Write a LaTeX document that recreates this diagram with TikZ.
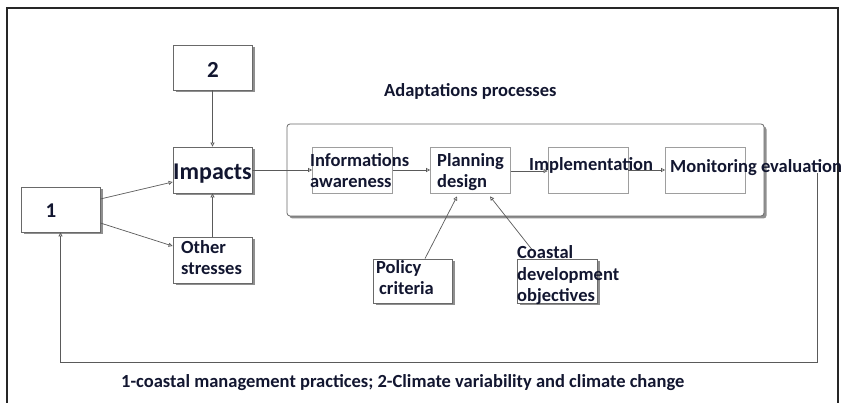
\documentclass[tikz,border=0pt]{standalone}
\usepackage{fontspec}
\setmainfont{Carlito}
\usetikzlibrary{arrows.meta,shadows,calc}
\definecolor{ink}{RGB}{18,22,48}
\definecolor{edge}{RGB}{105,105,105}
\definecolor{wire}{RGB}{90,90,90}
\begin{document}
\begin{tikzpicture}[x=1pt,y=-1pt,
  shbox/.style={draw=edge, line width=0.8pt, fill=white, inner sep=0pt,
    drop shadow={shadow xshift=2.5pt,shadow yshift=-2.5pt,opacity=0.55,fill=black!80}},
  stepbox/.style={draw=black!38, line width=0.8pt, fill=white, inner sep=0pt,
    minimum width=80pt, minimum height=46pt},
  txt/.style={text=ink, font=\fontsize{18.5}{21.5}\selectfont\bfseries, inner sep=0pt, align=left},
  link/.style={draw=wire, line width=0.7pt, -{Triangle[open,length=4pt,width=4pt]}}]
\useasboundingbox (0,0) rectangle (844,403);
\fill[white] (0,0) rectangle (844,403);
% outer frame, open at the bottom
\draw[line width=1.4pt, black!85] (7,403) -- (7,8) -- (838,8) -- (838,403);

% left-hand group
\node[shbox, minimum width=79pt, minimum height=45pt] (b2) at (212.5,67.5) {};
\node[txt, font=\fontsize{23}{26}\selectfont\bfseries, anchor=base] (b2t) at (213,78) {2};
\node[shbox, minimum width=79pt, minimum height=46pt] (imp) at (212.5,170) {};
\node[txt, font=\fontsize{24}{26}\selectfont\bfseries, anchor=base] (impt) at (212.5,180) {Impacts};
\node[shbox, minimum width=79pt, minimum height=45pt] (b1) at (60.5,209.5) {};
\node[txt, font=\fontsize{21}{24}\selectfont\bfseries, anchor=base] (b1t) at (51,218) {1};
\node[shbox, minimum width=79pt, minimum height=46pt] (oth) at (212.5,260) {};

% adaptation process group
\node[shbox, rounded corners=3pt, minimum width=477pt, minimum height=92pt] (big) at (525.5,170) {};
\node[txt, anchor=base west] (bigt) at (384,97) {Adaptations processes};
\node[stepbox] (info) at (352.5,170) {};
\node[stepbox] (plan) at (470.5,170) {};
\node[stepbox] (impl) at (588,170) {};
\node[stepbox] (mon)  at (705.5,170) {};

% external inputs to planning
\node[shbox, minimum width=79pt, minimum height=44pt] (pol) at (412.5,281) {};
\node[shbox, minimum width=80pt, minimum height=44pt] (coa) at (557,281) {};

% connectors
\draw[link] (b2.south) -- (imp.north);
\draw[link] (oth.north) -- (imp.south);
\draw[link] ([yshift=10.5pt]b1.east) -- ([yshift=-12pt]imp.west);
\draw[link] ([yshift=-13.5pt]b1.east) -- ([yshift=14pt]oth.west);
\draw[link] (imp.east) -- (info.west);
\draw[link] (info.east) -- (plan.west);
\draw[link] ([yshift=-1pt]plan.east) -- ([yshift=-1pt]impl.west);
\draw[link] (impl.east) -- (mon.west);
\draw[link] ([xshift=12.5pt]pol.north) -- ([xshift=-13.5pt,yshift=-3pt]plan.south);
\draw[link] ([xshift=-25pt,yshift=9pt]coa.north) -- ([xshift=19.5pt,yshift=-3pt]plan.south);
\coordinate (fb) at (817,173);
\coordinate (fbc) at (817,362);
\draw[link] (fb) -- (fbc) -| (b1.south);

% labels (multi-line nodes sit on the baseline of their last line)
\node[txt, anchor=base west] (otht) at (181,275) {Other\\stresses};
\node[txt, anchor=base west] (infot) at (310,188) {Informations\\awareness};
\node[txt, anchor=base west] (plant) at (437,188) {Planning\\design};
\node[txt, anchor=base west] (implt) at (529,171) {Implementation};
\node[txt, anchor=base west] (mont) at (670,173) {Monitoring evaluation};
\node[txt, anchor=base west] (polt) at (376,295) {Policy\\\hspace*{3pt}criteria};
\node[txt, anchor=base west] (coat) at (517,302) {Coastal\\development\\objectives};

% caption
\node[txt, anchor=base west] (cap) at (121,388) {1-coastal management practices; 2-Climate variability and climate change};
\end{tikzpicture}
\end{document}
